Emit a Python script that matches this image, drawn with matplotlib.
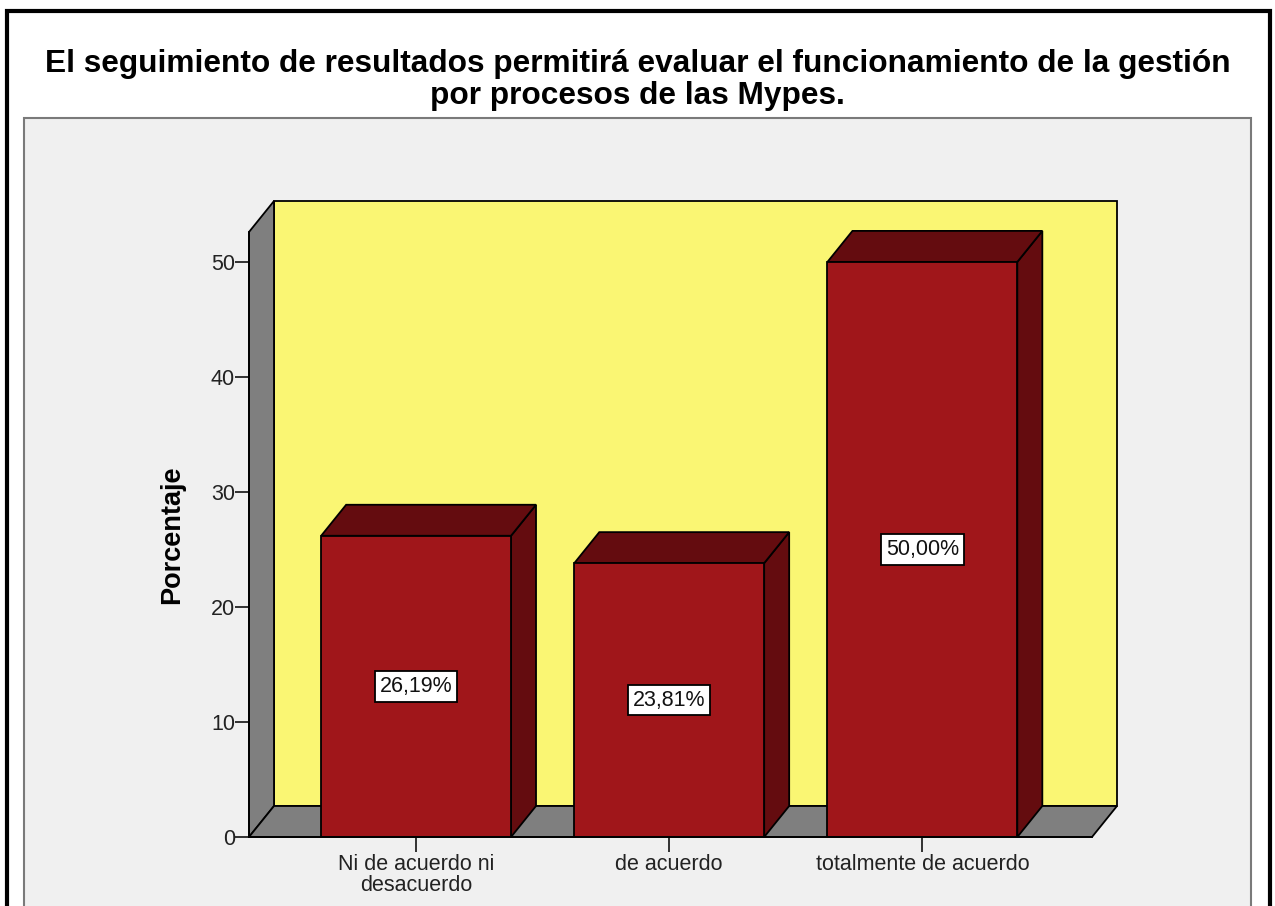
import matplotlib
matplotlib.use('Agg')
import matplotlib.pyplot as plt
from matplotlib.patches import Polygon, Rectangle

# data
categories = ['Ni de acuerdo ni\ndesacuerdo', 'de acuerdo', 'totalmente de acuerdo']
percentages = [26.19, 23.81, 50.00]
value_labels = ['26,19%', '23,81%', '50,00%']
yticks = [0, 10, 20, 30, 40, 50]
title = ('El seguimiento de resultados permitirá evaluar el funcionamiento de la gestión\n'
         'por procesos de las Mypes.')

# colours
WALL_BACK = '#faf673'
WALL_SIDE = '#7f7f7f'
BAR_FRONT = '#a0161a'
BAR_DARK = '#640c0f'
PANEL = '#f0f0f0'

plt.rcParams['font.family'] = ['Liberation Sans', 'DejaVu Sans']

W, H, DPI = 1275, 906, 100
fig = plt.figure(figsize=(W / DPI, H / DPI), dpi=DPI)
fig.patch.set_facecolor('white')

# outer black frame and gray panel (pixel coords -> figure fraction)
def px_rect(x0, y0, x1, y1, **kw):
    return Rectangle((x0 / W, 1 - y1 / H), (x1 - x0) / W, (y1 - y0) / H,
                     transform=fig.transFigure, **kw)

fig.patches.append(px_rect(24, 118, 1251, 930, facecolor=PANEL, edgecolor='#7a7a7a',
                           lw=1.5, zorder=-1))
fig.patches.append(px_rect(7, 11, 1270, 930, facecolor='none', edgecolor='black',
                           lw=3, zorder=10))

fig.text(0.5, 1 - 80 / H, title, ha='center', va='center', fontsize=22.8,
         fontweight='bold', linespacing=1.1)

# axes = front plane of the 3D box
ax_l, ax_r, ax_b, ax_t = 249, 1092, 837, 232
ax = fig.add_axes([ax_l / W, 1 - ax_b / H, (ax_r - ax_l) / W, (ax_b - ax_t) / H])
ax.set_facecolor('none')
xmin, xmax, ymin, ymax = -0.66, 2.67, 0, 52.6
ax.set_xlim(xmin, xmax)
ax.set_ylim(ymin, ymax)

# depth offset in data units
DEPTH_X, DEPTH_Y = 25, 31
dx = DEPTH_X * (xmax - xmin) / (ax_r - ax_l)
dy = DEPTH_Y * (ymax - ymin) / (ax_b - ax_t)

kw = dict(clip_on=False, edgecolor='black', lw=1.3, joinstyle='miter')
ax.add_patch(Rectangle((xmin + dx, dy), xmax - xmin, ymax - ymin,
                       facecolor=WALL_BACK, zorder=1, **kw))
ax.add_patch(Polygon([(xmin, 0), (xmin + dx, dy), (xmin + dx, ymax + dy), (xmin, ymax)],
                     facecolor=WALL_SIDE, zorder=2, **kw))
ax.add_patch(Polygon([(xmin, 0), (xmax, 0), (xmax + dx, dy), (xmin + dx, dy)],
                     facecolor=WALL_SIDE, zorder=2, **kw))

xs = list(range(len(categories)))
bw = 0.75
for x, v in zip(xs, percentages):
    l, r = x - bw / 2, x + bw / 2
    ax.add_patch(Polygon([(r, 0), (r + dx, dy), (r + dx, v + dy), (r, v)],
                         facecolor=BAR_DARK, zorder=3, **kw))
    ax.add_patch(Polygon([(l, v), (r, v), (r + dx, v + dy), (l + dx, v + dy)],
                         facecolor=BAR_DARK, zorder=3, **kw))
ax.bar(xs, percentages, width=bw, color=BAR_FRONT, edgecolor='black', lw=1.3, zorder=4)

for x, v, lab in zip(xs, percentages, value_labels):
    ax.text(x, v / 2, lab, ha='center', va='center', fontsize=15.5, color='#111111', zorder=5,
            bbox=dict(boxstyle='square,pad=0.22', facecolor='white', edgecolor='black', lw=1.3))

for side in ['top', 'right']:
    ax.spines[side].set_visible(False)
for side in ['left', 'bottom']:
    ax.spines[side].set_linewidth(1.3)
    ax.spines[side].set_zorder(6)

ax.set_yticks(yticks)
ax.set_xticks(xs)
ax.set_xticklabels(categories, linespacing=1.0)
ax.tick_params(axis='y', direction='out', length=10, width=1.3, labelsize=15.5, pad=0, colors='#222222')
ax.tick_params(axis='x', direction='out', length=11, width=1.3, labelsize=15.5, pad=1, colors='#222222')
ax.set_ylabel('Porcentaje', fontsize=19.5, fontweight='bold')
ax.yaxis.set_label_coords(-0.076, 0.5)

fig.savefig('out.png', dpi=DPI)
